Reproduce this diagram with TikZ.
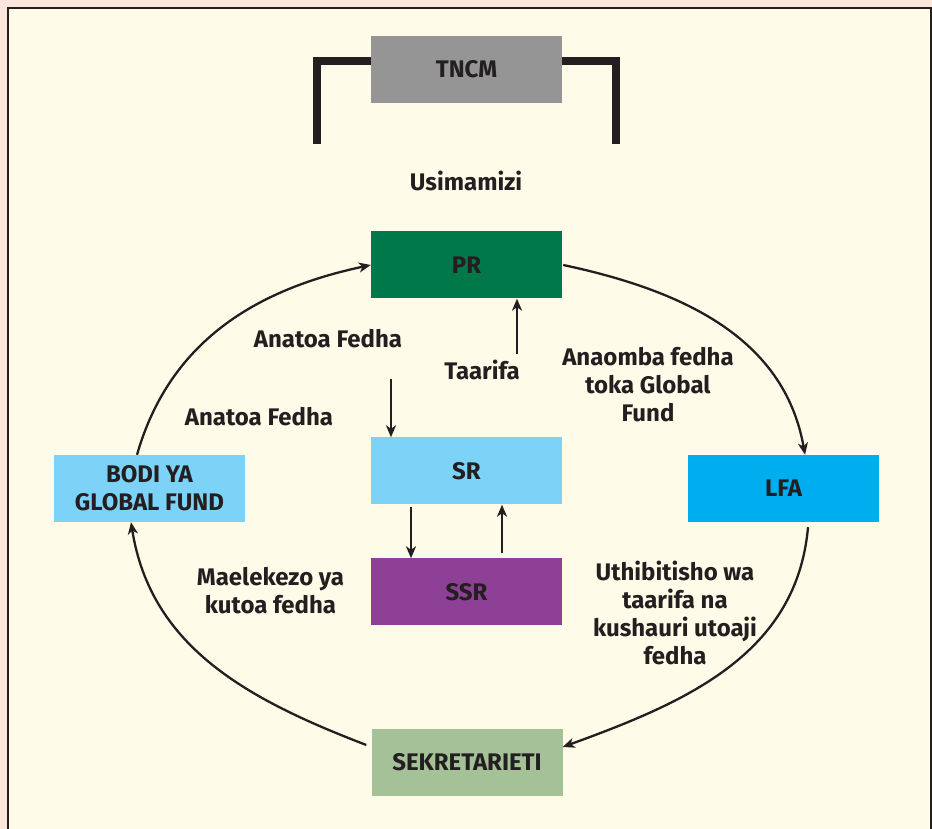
\documentclass[tikz,border=0pt]{standalone}
\usepackage{fontspec}
\setmainfont{Fira Sans}
\usepackage{tikz}
\usetikzlibrary{arrows.meta}

\definecolor{bgpink}{HTML}{FCE5DB}
\definecolor{cream}{HTML}{FFFBE9}
\definecolor{ink}{HTML}{231F20}
\definecolor{tncmgray}{HTML}{959595}
\definecolor{prgreen}{HTML}{00784A}
\definecolor{srblue}{HTML}{7CD3F7}
\definecolor{ssrpurple}{HTML}{8E3F96}
\definecolor{sekgreen}{HTML}{A5C197}
\definecolor{lfablue}{HTML}{00ADEE}

\begin{document}
\begin{tikzpicture}[x=1pt, y=1pt,
  box/.style = {minimum width=191pt, minimum height=67pt, inner sep=0pt, align=center, text=ink, font=\fontsize{24}{28}\selectfont\bfseries},
  lbl/.style = {align=center, text=ink, inner sep=0pt, font=\fontsize{24}{28}\selectfont\bfseries},
  arr/.style = {draw=ink, line width=2.3pt, -{Stealth[length=12pt, width=10pt, inset=3.5pt]}},
  bracket/.style = {draw=ink, line width=8pt}]

\useasboundingbox (0,0) rectangle (932,829);
\fill[bgpink] (0,0) rectangle (932,829);
\filldraw[fill=cream, draw=ink, line width=2.5pt] (8,-10) rectangle (931,821);

\node[box, fill=tncmgray] (tncm) at (466.5,759.5) {TNCM};
\node[box, fill=prgreen] (pr) at (466.5,564) {PR};
\node[box, fill=srblue] (sr) at (466.5,358) {SR};
\node[box, fill=ssrpurple] (ssr) at (466.5,237) {SSR};
\node[box, fill=sekgreen] (sek) at (467,66.5) {SEKRETARIETI};
\node[box, fill=srblue] (bodi) at (149.5,340.5) {BODI YA\\GLOBAL FUND};
\node[box, fill=lfablue] (lfa) at (783.5,340.5) {LFA};

\coordinate (bl) at (317,685);
\coordinate (br) at (616,685);
\draw[bracket] ([yshift=8.5]tncm.west) -| (bl);
\draw[bracket] ([yshift=8.5]tncm.east) -| (br);

\node[lbl] (usim) at (466,648) {Usimamizi};
\node[lbl] (fedhaA) at (328,490) {Anatoa Fedha};
\node[lbl] (fedhaB) at (259,412) {Anatoa Fedha};
\node[lbl] (taarifa) at (482,459) {Taarifa};
\node[lbl] (omba) at (648,444) {Anaomba fedha\\toka Global\\Fund};
\node[lbl] (maelekezo) at (270.5,238) {Maelekezo ya\\kutoa fedha};
\node[lbl] (uthibitisho) at (675,216) {Uthibitisho wa\\taarifa na\\kushauri utoaji\\fedha};

\draw[arr] ([xshift=-12.5]bodi.north) to[out=74, in=192] (pr.west);
\draw[arr] ([xshift=1]pr.east) to[out=-12, in=100] ([xshift=21.5]lfa.north);
\draw[arr] ([xshift=24.5,yshift=-5]lfa.south) to[out=-95, in=20] ([yshift=15.5]sek.east);
\draw[arr] ([xshift=-5,yshift=17.5]sek.west) to[out=159, in=-81] ([xshift=-18.5]bodi.south);

\coordinate (srin) at (391,450);
\coordinate (prin) at (517,475);
\draw[arr] (srin) -- (srin |- sr.north);
\draw[arr] (prin) -- (prin |- pr.south);
\draw[arr] ([xshift=-55.5,yshift=-2]sr.south) -- ([xshift=-55.5]ssr.north);
\draw[arr] ([xshift=35.5,yshift=5]ssr.north) -- ([xshift=35.5]sr.south);
\end{tikzpicture}
\end{document}
